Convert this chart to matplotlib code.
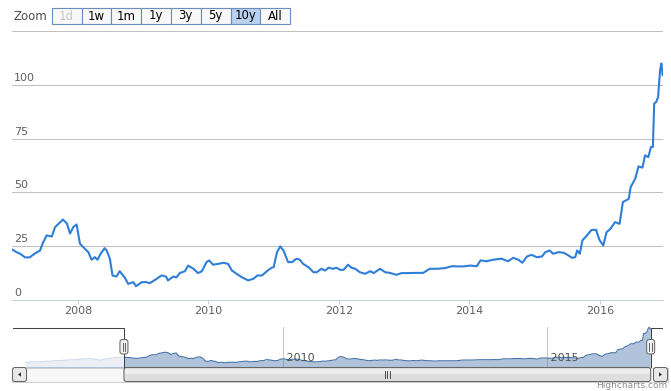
import numpy as np
import matplotlib
matplotlib.use("Agg")
import matplotlib.pyplot as plt
from matplotlib.patches import Rectangle, FancyBboxPatch, Polygon

W, H = 671, 391

# price series (decimal year, value)
years = [2006.99, 2007.06, 2007.11, 2007.19, 2007.26, 2007.34, 2007.42, 2007.46, 2007.52, 2007.60,
         2007.65, 2007.71, 2007.77, 2007.83, 2007.88, 2007.93, 2007.98, 2008.03, 2008.08, 2008.16,
         2008.21, 2008.26, 2008.30, 2008.35, 2008.41, 2008.44, 2008.49, 2008.53, 2008.59, 2008.64,
         2008.72, 2008.77, 2008.85, 2008.89, 2008.98, 2009.05, 2009.10, 2009.21, 2009.28, 2009.35,
         2009.38, 2009.46, 2009.51, 2009.56, 2009.64, 2009.69, 2009.77, 2009.84, 2009.90, 2009.97,
         2010.01, 2010.07, 2010.15, 2010.23, 2010.30, 2010.36, 2010.43, 2010.51, 2010.61, 2010.69,
         2010.75, 2010.82, 2010.92, 2010.97, 2011.00, 2011.05, 2011.10, 2011.15, 2011.22, 2011.28,
         2011.35, 2011.40, 2011.45, 2011.53, 2011.61, 2011.66, 2011.73, 2011.79, 2011.84, 2011.91,
         2011.96, 2012.02, 2012.07, 2012.14, 2012.19, 2012.25, 2012.32, 2012.40, 2012.48, 2012.53,
         2012.63, 2012.71, 2012.78, 2012.88, 2012.96, 2013.06, 2013.19, 2013.29, 2013.39, 2013.50,
         2013.62, 2013.73, 2013.83, 2013.90, 2014.01, 2014.11, 2014.17, 2014.26, 2014.36, 2014.49,
         2014.59, 2014.67, 2014.75, 2014.81, 2014.88, 2014.95, 2015.03, 2015.11, 2015.16, 2015.23,
         2015.28, 2015.36, 2015.44, 2015.49, 2015.57, 2015.62, 2015.65, 2015.69, 2015.73, 2015.80,
         2015.87, 2015.94, 2015.99, 2016.05, 2016.10, 2016.16, 2016.23, 2016.30, 2016.35, 2016.44,
         2016.47, 2016.54, 2016.59, 2016.65, 2016.69, 2016.74, 2016.78, 2016.81, 2016.83, 2016.86,
         2016.89, 2016.92, 2016.94, 2016.96]
prices = [23.5, 22.2, 21.6, 19.8, 19.8, 21.6, 23.0, 26.3, 30.0, 29.5,
          33.9, 35.6, 37.4, 35.6, 30.9, 33.9, 35.1, 26.3, 24.6, 22.2,
          18.7, 19.9, 18.7, 21.6, 24.1, 23.0, 19.2, 11.4, 10.9, 13.4,
          10.3, 7.5, 8.3, 6.4, 8.3, 8.3, 7.8, 9.9, 11.4, 10.9,
          9.1, 10.9, 10.5, 12.5, 13.4, 16.0, 14.5, 12.5, 13.4, 17.6,
          18.4, 16.4, 16.8, 17.3, 16.8, 13.7, 12.2, 10.6, 9.1, 9.9,
          11.4, 11.4, 14.0, 15.0, 15.3, 22.2, 24.9, 23.0, 17.6, 17.6,
          19.2, 18.7, 16.8, 15.3, 12.9, 12.9, 14.5, 13.7, 15.0, 14.5,
          15.0, 14.0, 14.0, 16.4, 15.0, 14.5, 12.9, 12.2, 13.4, 12.5,
          14.5, 12.9, 12.6, 11.7, 12.5, 12.5, 12.6, 12.6, 14.5, 14.5,
          14.8, 15.7, 15.6, 15.6, 16.0, 15.7, 18.4, 18.0, 18.7, 19.2,
          18.0, 19.6, 18.7, 17.3, 20.2, 21.0, 19.9, 20.2, 22.2, 23.0,
          21.5, 22.2, 22.0, 21.2, 19.6, 19.9, 23.0, 21.5, 27.7, 30.0,
          32.6, 32.6, 28.0, 25.3, 31.5, 33.1, 36.2, 35.4, 45.5, 47.0,
          52.5, 56.4, 62.1, 61.5, 67.2, 66.4, 71.1, 71.1, 91.3, 92.0,
          94.3, 106.7, 109.9, 104.4]

# older history, only visible in the navigator
early_years = [2005.13, 2005.59, 2005.90, 2006.22, 2006.35, 2006.53, 2006.72]
early_prices = [8.0, 11.5, 14.5, 17.5, 19.5, 14.0, 20.0]

x_ticks = [2008, 2010, 2012, 2014, 2016]
y_ticks = [0, 25, 50, 75, 100]
grid_values = [25, 50, 75, 100, 125]
nav_ticks = [2010, 2015]
buttons = ["1d", "1w", "1m", "1y", "3y", "5y", "10y", "All"]
selected = "10y"
disabled = "1d"

main_range = (2006.99, 2016.965)
nav_range = (2004.87, 2017.18)

plt.rcParams['font.family'] = ['DejaVu Sans']


def box(l, t, r, b):
    return [l / W, 1 - b / H, (r - l) / W, (b - t) / H]


fig = plt.figure(figsize=(W / 100, H / 100), dpi=100)

# ---------------- main chart ----------------
ax = fig.add_axes(box(12, 31, 663, 300))
for v in grid_values:
    ax.axhline(v, color='#C0C0C0', lw=0.75, zorder=0)
ax.plot(years, prices, color='#2F7ED8', lw=1.5, solid_joinstyle='round', solid_capstyle='round')
ax.set_xlim(*main_range)
ax.set_ylim(0, 125)
for s in ['top', 'left', 'right']:
    ax.spines[s].set_visible(False)
ax.spines['bottom'].set_color('#C0D0E0')
ax.spines['bottom'].set_linewidth(0.75)
ax.set_yticks([])
ax.set_xticks(x_ticks)
ax.set_xticklabels([str(t) for t in x_ticks])
ax.tick_params(axis='x', length=3, width=0.75, color='#C0D0E0', labelcolor='#606060',
               labelsize=8, pad=1)
for v in y_ticks:
    ax.annotate(str(v), xy=(0, v), xycoords=('axes fraction', 'data'), xytext=(2, 7),
                textcoords='offset pixels', ha='left', va='center', fontsize=8, color='#606060')

# ---------------- navigator ----------------
nav = fig.add_axes(box(12, 327, 662, 367))
nav_x = early_years + years
nav_y = early_prices + prices
nav.fill_between(nav_x, -10, nav_y, color='#4572A7', alpha=0.42, lw=0)
nav.plot(nav_x, nav_y, color='#4572A7', lw=0.8)
for t in nav_ticks:
    nav.axvline(t, color='#C8C8C8', lw=0.75, zorder=0)
    nav.text(t, 20, " " + str(t), ha='left', va='center', fontsize=8, color='#505050')
nav.set_xlim(*nav_range)
nav.set_ylim(-5.5, 110.5)
nav.axis('off')

# ---------------- overlay in pixel coordinates ----------------
ov = fig.add_axes([0, 0, 1, 1])
ov.set_xlim(0, W)
ov.set_ylim(H, 0)
ov.axis('off')
ov.patch.set_alpha(0)


def npx(year):
    return 12 + (year - nav_range[0]) / (nav_range[1] - nav_range[0]) * 650


hl, hr = npx(main_range[0]), npx(main_range[1])

# masks on the unselected navigator parts
ov.add_patch(Rectangle((12, 327), hl - 12, 40, color='white', alpha=0.75, lw=0))
ov.add_patch(Rectangle((hr, 327), 662 - hr, 40, color='white', alpha=0.75, lw=0))

# navigator outline
ov.plot([13, hl, hl], [327.5, 327.5, 367], color='#444444', lw=0.75)
ov.plot([hr, hr, 662], [367, 327.5, 327.5], color='#444444', lw=0.75)

# scrollbar
ov.add_patch(Rectangle((12, 367.5), 656, 14, facecolor='#F7F7F7', edgecolor='#D0D0D0', lw=0.75))
ov.add_patch(FancyBboxPatch((hl, 367.5), hr - hl, 14, boxstyle='round,pad=0,rounding_size=2.5',
                            facecolor='#DEDEDE', edgecolor='#666666', lw=0.75))
ov.add_patch(Rectangle((hl + 1, 368.5), hr - hl - 2, 5, facecolor='#EEEEEE', lw=0))
mid = (hl + hr) / 2
for dx in (-2.5, 0, 2.5):
    ov.plot([mid + dx, mid + dx], [371, 378], color='#333333', lw=0.6)
for bx, d in ((12.5, -1), (653.5, 1)):
    ov.add_patch(FancyBboxPatch((bx, 367.5), 14, 14, boxstyle='round,pad=0,rounding_size=2.5',
                                facecolor='#E8E8E8', edgecolor='#666666', lw=0.75))
    cx = bx + 7
    ov.add_patch(Polygon([(cx + 1.5 * d, 374.5), (cx - 1.5 * d, 372.3), (cx - 1.5 * d, 376.7)],
                         closed=True, color='#333333', lw=0))

# navigator handles
for hx in (hl, hr):
    ov.add_patch(FancyBboxPatch((hx - 4, 339.5), 8, 14.5, boxstyle='round,pad=0,rounding_size=2.5',
                                facecolor='#F2F2F2', edgecolor='#666666', lw=0.75, zorder=5))
    for dx in (-1.3, 1.3):
        ov.plot([hx + dx, hx + dx], [343, 350.5], color='#444444', lw=0.6, zorder=6)

# range selector
ov.text(13, 17, "Zoom", ha='left', va='center', fontsize=8.5, color='#4D4D4D')
bw = 29.8
for i, b in enumerate(buttons):
    x0 = 51.7 + i * bw
    fc = '#B9D0EE' if b == selected else '#F8F8F8'
    ov.add_patch(Rectangle((x0, 7.5), bw, 16.5, facecolor=fc, edgecolor='#6A8CB8', lw=0.8))
    tc = '#C8C8C8' if b == disabled else '#000000'
    ov.text(x0 + bw / 2, 16, b, ha='center', va='center', fontsize=8.5, color=tc)

ov.text(667, 386, "Highcharts.com", ha='right', va='center', fontsize=6.5, color='#909090')

fig.savefig("out.png", dpi=100)
